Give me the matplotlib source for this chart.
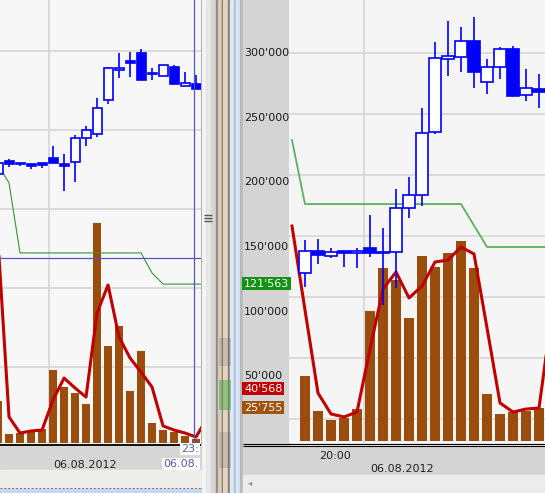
import numpy as np
import matplotlib.pyplot as plt
from matplotlib.patches import Rectangle, Polygon

W, H = 545, 493

# right pane, one entry per bar (index 0 = first full bar)
r_open = [129900, 146900, 143000, 146900, 145400, 149200, 146100, 146100, 180200, 190200,
          238900, 295400, 296900, 309300, 277600, 289200, 303100, 267500, 272200]
r_high = [155400, 156200, 149200, 146900, 149200, 174700, 164700, 194800, 204100, 257500,
          308500, 324700, 320100, 327800, 295400, 304600, 305400, 287600, 283800]
r_low = [119100, 136900, 141500, 134500, 133800, 142300, 105200, 118300, 172400, 181700,
         237400, 282200, 285300, 272900, 268300, 279900, 266800, 262900, 257500]
r_close = [146900, 143800, 146100, 145400, 146900, 145400, 145400, 180200, 190200, 238100,
           296100, 297700, 309300, 285300, 289200, 303100, 266800, 272900, 269800]
r_vol = [50300, 23200, 16200, 17800, 24700, 100500, 133800, 124500, 95100, 143000,
         134500, 145400, 154600, 133800, 36300, 20900, 22400, 23200, 25755]
# lines start one bar before the first full bar (index -1)
r_vol_ma = [166200, 101300, 37100, 20900, 18600, 22400, 71100, 117500, 130700, 110600, 119800,
            138400, 139900, 150000, 144600, 87400, 29400, 22400, 24700, 25500, 100000]
r_stop = [232700, 183200, 183200, 183200, 183200, 183200, 183200, 183200, 183200, 183200, 183200,
          183200, 183200, 183200, 166600, 150000, 150000, 150000, 150000, 150000, 150000]
r_ticks = [300000, 250000, 200000, 150000, 100000, 50000]
r_tick_labels = ["300'000", "250'000", "200'000", "150'000", "100'000", "50'000"]
r_marks = [(121563, "121'563", '#129412'), (40568, "40'568", '#c00000'), (25755, "25'755", '#a0520f')]

# left pane (thousands, no scale shown), index 0 is cut by the left edge
l_open = [170.3, 178.5, 177.2, 176.6, 177.2, 180.4, 176.6, 177.8, 193.0, 195.6,
          217.1, 236.1, 241.8, 246.8, 234.2, 232.3, 238.0, 225.9, 227.2]
l_high = [177.2, 179.7, 177.2, 176.6, 177.2, 188.0, 182.9, 194.9, 200.6, 218.4,
          238.0, 246.8, 247.5, 249.4, 237.3, 239.2, 239.2, 234.8, 232.9]
l_low = [170.3, 174.7, 175.3, 173.4, 174.1, 177.2, 159.5, 165.2, 188.0, 193.7,
         214.6, 231.0, 231.6, 229.7, 229.7, 232.3, 227.2, 225.9, 224.1]
l_close = [177.2, 176.6, 176.6, 175.3, 175.9, 177.2, 175.3, 193.0, 198.1, 212.0,
           237.3, 237.3, 240.5, 229.7, 233.5, 239.2, 227.2, 227.8, 224.1]
l_vol = [26.6, 5.7, 6.3, 7.0, 8.9, 46.2, 35.4, 31.6, 24.7, 139.2,
         61.4, 74.1, 32.9, 58.2, 12.7, 8.2, 7.0, 4.4, 2.5]
l_vol_ma = [127.8, 16.5, 6.3, 7.6, 8.2, 27.2, 41.1, 34.8, 29.1, 82.3,
            100.0, 67.1, 53.8, 44.9, 35.4, 10.8, 8.2, 6.3, 3.8, 15.8]
l_stop = [176.0, 164.6, 120.3, 120.3, 120.3, 120.3, 120.3, 120.3, 120.3, 120.3,
          120.3, 120.3, 120.3, 120.3, 107.6, 100.6, 100.6, 100.6, 100.6, 100.6]
l_cross = (17.8, 117.1)  # crosshair position

BLUE = '#0000ff'
BROWN = '#9b4d0e'
RED = '#c00000'


def px_axes(fig, x, y, w, h, **kw):
    return fig.add_axes([x / W, 1 - (y + h) / H, w / W, h / H], **kw)


def candles(ax, o, hi, lo, c, width, lw):
    for i in range(len(o)):
        ax.vlines(i, lo[i], hi[i], color=BLUE, lw=lw, zorder=5)
        bot, top = min(o[i], c[i]), max(o[i], c[i])
        fc = 'white' if c[i] > o[i] else BLUE
        ax.add_patch(Rectangle((i - width / 2, bot), width, top - bot,
                               fc=fc, ec=BLUE, lw=lw, zorder=6))


def bare(ax, bg):
    ax.set_facecolor(bg)
    for s in ax.spines.values():
        s.set_visible(False)
    ax.set_xticks([])
    ax.set_yticks([])


plt.rcParams['font.family'] = 'DejaVu Sans'
fig = plt.figure(figsize=(W / 100, H / 100), dpi=100)

# window chrome in pixel coordinates
bg = px_axes(fig, 0, 0, W, H)
bg.set_xlim(0, W)
bg.set_ylim(H, 0)
bg.axis('off')
bg.add_patch(Rectangle((0, 0), W, H, color='#f0f0f0'))
# splitter between the panes
bg.add_patch(Rectangle((201, 0), 1, H, color='#a0a0a0'))
for x0, x1, col in [(202, 206, '#f4f4f4'), (206, 211, '#e6e6e6'), (211, 216, '#d6d6d6'),
                    (216, 218, '#8a8a8a'), (218, 222, '#d9cbb8'), (222, 223, '#7a6a58'),
                    (223, 228, '#e2d4c2'), (228, 230, '#8c7f70'), (230, 234, '#dfe8f6'),
                    (234, 236, '#aac2e4'), (236, 240, '#dbe6f5'), (240, 243, '#b8b8b8')]:
    bg.add_patch(Rectangle((x0, 0), x1 - x0, H, color=col))
for y0, y1, col, a in [(338, 366, '#505050', 0.18), (380, 410, '#3aa53a', 0.45), (432, 468, '#505050', 0.18)]:
    bg.add_patch(Rectangle((219, y0), 12, y1 - y0, color=col, alpha=a, lw=0))
bg.hlines([215, 218, 221], 204, 212, color='#555555', lw=1)
# left pane time axis
bg.add_patch(Rectangle((0, 445), 201, 25, color='#d6d6d6'))
bg.add_patch(Rectangle((0, 470), 201, 17, color='#efede9'))
bg.hlines(487.5, 0, 201, color='#707070', ls=(0, (2, 2)), lw=0.7)
bg.add_patch(Rectangle((0, 489), 201, 4, color='#c6d8ef'))
bg.hlines(444.5, 0, 201, color='black', lw=1.3)
bg.text(85, 465, '06.08.2012', fontsize=8, ha='center', va='center', color='#202020')
bg.text(199, 449, '23:', fontsize=8, ha='right', va='center', color='#5a5ab0',
        bbox=dict(fc='white', ec='none', pad=1))
bg.text(199, 464, '06.08.', fontsize=8, ha='right', va='center', color='#5a5ab0',
        bbox=dict(fc='white', ec='none', pad=1))
# right pane value strip and time axis
bg.add_patch(Rectangle((243, 0), 46, 447, color='#d4d4d4'))
bg.add_patch(Rectangle((243, 447), 302, 28, color='#d4d4d4'))
bg.add_patch(Rectangle((243, 475), 302, 18, color='#ececec'))
bg.hlines([443.8, 446.3], 243, W, color='black', lw=0.8)
bg.text(250, 483, '\u25c2', fontsize=6, ha='center', va='center', color='#909090')
bg.text(335, 456, '20:00', fontsize=8, ha='center', va='center', color='#202020')
bg.text(402, 469, '06.08.2012', fontsize=8, ha='center', va='center', color='#202020')

# left pane
axL = px_axes(fig, 0, 0, 201, 443)
bare(axL, '#f7f7f7')
axL.set_xlim(0.18, 18.45)
axL.set_ylim(0, 280.4)
for g in [48, 98, 148, 198, 248]:
    axL.axhline(g, color='#d6d6d6', lw=1.2, zorder=1)
axL.axvline(4.64, color='#d6d6d6', lw=1.2, zorder=1)
axL.bar(np.arange(len(l_vol)), l_vol, width=0.73, color=BROWN, zorder=2)
axL.plot(np.arange(len(l_stop)), l_stop, color='#2f9a2f', lw=0.8, zorder=3)
axL.plot(np.arange(len(l_vol_ma)), l_vol_ma, color=RED, lw=2.2, zorder=4)
candles(axL, l_open, l_high, l_low, l_close, 0.82, 1.2)
axL.axvline(l_cross[0], color='#5555c8', lw=0.9, zorder=7)
axL.axhline(l_cross[1], color='#5555c8', lw=0.9, zorder=7)
# mouse pointer
arrow = np.array([[0, 0], [0, 15], [3.5, 11.5], [6.5, 18], [9, 17], [6, 10.5], [11, 10.5]])
bg.add_patch(Polygon(arrow + [65, 112], closed=True, fc='white', ec='#303030', lw=0.8, zorder=10))
bg.set_zorder(0)

# right pane
axR = px_axes(fig, 289, 0, 256, 443)
bare(axR, '#f5f5f5')
axR.set_xlim(-1.23, 18.46)
axR.set_ylim(-1546, 340979)
# grid of the chart runs on its own step, not on the value labels
for k in range(7):
    axR.axhline(300000 - k * 47165, color='#d6d6d6', lw=1.2, zorder=1)
axR.axvline(4.54, color='#d6d6d6', lw=1.2, zorder=1)
axR.bar(np.arange(len(r_vol)), r_vol, width=0.82, color=BROWN, zorder=2)
axR.plot(np.arange(-1, len(r_stop) - 1), r_stop, color='#5cb25c', lw=1.3, zorder=3)
axR.plot(np.arange(-1, len(r_vol_ma) - 1), r_vol_ma, color=RED, lw=2.2, zorder=4)
candles(axR, r_open, r_high, r_low, r_close, 0.85, 1.2)

ytr = axR.get_yaxis_transform()
lx = (244 - 289) / 256
for v, lab in zip(r_ticks, r_tick_labels):
    axR.text(lx, v, lab, transform=ytr, fontsize=8, ha='left', va='center',
             color='#1a1a1a', clip_on=False)
for v, lab, col in r_marks:
    axR.text(lx, v, lab, transform=ytr, fontsize=8, ha='left', va='center', color='white',
             clip_on=False, bbox=dict(fc=col, ec='none', pad=1.2), zorder=8)

fig.savefig('out.png', dpi=100)
